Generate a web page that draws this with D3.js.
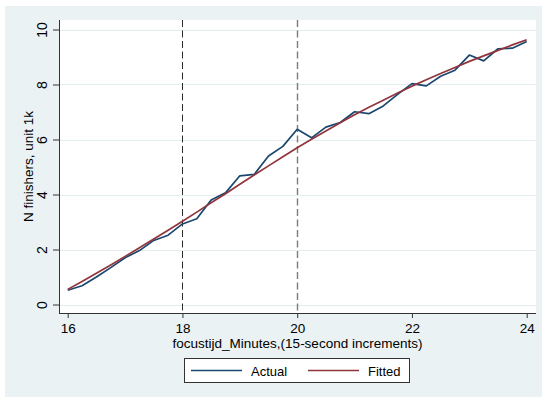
<!DOCTYPE html>
<html>
<head>
<meta charset="utf-8">
<script src="https://cdn.jsdelivr.net/npm/d3@7"></script>
<style>
  html, body { margin: 0; padding: 0; background: #ffffff; }
  svg { display: block; }
  text { font-family: "Liberation Sans", Arial, sans-serif; fill: #000; }
</style>
</head>
<body>
<svg id="chart" width="542" height="399"></svg>
<script>
// Finish time in minutes, 15-second steps
const minutes = [16, 16.25, 16.5, 16.75, 17, 17.25, 17.5, 17.75, 18, 18.25, 18.5, 18.75,
                 19, 19.25, 19.5, 19.75, 20, 20.25, 20.5, 20.75, 21, 21.25, 21.5, 21.75,
                 22, 22.25, 22.5, 22.75, 23, 23.25, 23.5, 23.75, 24];
// Cumulative finishers (thousands), observed
const actual = [0.52, 0.68, 1.00, 1.34, 1.70, 1.96, 2.33, 2.52, 2.93, 3.12, 3.80, 4.06,
                4.68, 4.73, 5.40, 5.75, 6.37, 6.06, 6.45, 6.62, 7.01, 6.94, 7.22, 7.64,
                8.03, 7.95, 8.30, 8.52, 9.07, 8.86, 9.30, 9.32, 9.56];
// Cumulative finishers (thousands), fitted curve
const fitted = [0.55, 0.84, 1.14, 1.44, 1.75, 2.06, 2.38, 2.70, 3.03, 3.36, 3.70, 4.03,
                4.37, 4.71, 5.04, 5.37, 5.70, 6.01, 6.31, 6.61, 6.90, 7.17, 7.43, 7.69,
                7.94, 8.17, 8.40, 8.62, 8.84, 9.04, 9.24, 9.44, 9.63];
const xTicks = [16, 18, 20, 22, 24];
const yTicks = [0, 2, 4, 6, 8, 10];
const markers = [18, 20];
const seriesNames = ["Actual", "Fitted"];
const seriesColors = ["#1a476f", "#90353b"];

const svg = d3.select("#chart");
const bg = "#eaf2f3";

// graph region
svg.append("rect").attr("x", 5).attr("y", 6).attr("width", 537).attr("height", 391).attr("fill", bg);

// plot region
const plot = { left: 59, right: 536, top: 20, bottom: 313 };
svg.append("rect")
  .attr("x", plot.left).attr("y", plot.top)
  .attr("width", plot.right - plot.left).attr("height", plot.bottom - plot.top)
  .attr("fill", "#ffffff");

const x = d3.scaleLinear().domain([16, 24]).range([67.7, 526.7]);
const y = d3.scaleLinear().domain([0, 10]).range([304.5, 29.5]);

// horizontal gridlines
svg.append("g").selectAll("line").data(yTicks).join("line")
  .attr("x1", plot.left).attr("x2", plot.right)
  .attr("y1", d => Math.round(y(d)) + 0.5).attr("y2", d => Math.round(y(d)) + 0.5)
  .attr("stroke", "#e4edef").attr("stroke-width", 1.2);

// reference lines
svg.append("g").selectAll("line").data(markers).join("line")
  .attr("x1", d => Math.round(x(d)) + 0.5).attr("x2", d => Math.round(x(d)) + 0.5)
  .attr("y1", plot.top).attr("y2", plot.bottom)
  .attr("stroke", (d, i) => i === 0 ? "#2a2a2a" : "#7c7c7c")
  .attr("stroke-width", (d, i) => i === 0 ? 1 : 1.4)
  .attr("stroke-dasharray", "7,3.5");

// series lines: observed first, fitted drawn over it
const line = d3.line().x((d, i) => x(minutes[i])).y(d => y(d));
[actual, fitted].forEach((vals, k) => {
  svg.append("path").datum(vals)
    .attr("d", line)
    .attr("fill", "none")
    .attr("stroke", seriesColors[k])
    .attr("stroke-width", 1.7)
    .attr("stroke-linejoin", "round");
});

// y axis
const yAxis = svg.append("g")
  .attr("transform", `translate(${plot.left},0)`)
  .call(d3.axisLeft(y).tickValues(yTicks).tickSize(6).tickSizeOuter(0));
yAxis.select(".domain").attr("d", `M0.5,${plot.top}V${plot.bottom}`).attr("stroke", "#333");
yAxis.selectAll(".tick line").attr("stroke", "#333").attr("x1", 0.5).attr("x2", -6);
yAxis.selectAll(".tick text")
  .attr("x", 0).attr("y", -12).attr("dy", 0)
  .attr("transform", "rotate(-90)")
  .attr("text-anchor", "middle")
  .style("font-size", "14px").style("font-family", "'Liberation Sans', Arial, sans-serif");

// x axis
const xAxis = svg.append("g")
  .attr("transform", `translate(0,${plot.bottom})`)
  .call(d3.axisBottom(x).tickValues(xTicks).tickSize(5).tickSizeOuter(0));
xAxis.select(".domain").attr("d", `M${plot.left},0.5H${plot.right}`).attr("stroke", "#333");
xAxis.selectAll(".tick line").attr("stroke", "#333");
xAxis.selectAll(".tick text")
  .attr("y", 20).attr("dy", 0)
  .style("font-size", "13.5px").style("font-family", "'Liberation Sans', Arial, sans-serif");

// axis titles
svg.append("text")
  .attr("x", (plot.left + plot.right) / 2).attr("y", 348)
  .attr("text-anchor", "middle").style("font-size", "13.5px")
  .text("focustijd_Minutes,(15-second increments)");
svg.append("text")
  .attr("transform", `translate(33,${(plot.top + plot.bottom) / 2}) rotate(-90)`)
  .attr("text-anchor", "middle").style("font-size", "13.5px")
  .text("N finishers, unit 1k");

// legend
const legend = svg.append("g");
legend.append("rect")
  .attr("x", 184.5).attr("y", 358.5).attr("width", 225).attr("height", 24)
  .attr("fill", "#fff").attr("stroke", "#333").attr("stroke-width", 1);
const legendX = [191, 308];
seriesNames.forEach((name, k) => {
  legend.append("line")
    .attr("x1", legendX[k]).attr("x2", legendX[k] + 51)
    .attr("y1", 370.5).attr("y2", 370.5)
    .attr("stroke", seriesColors[k]).attr("stroke-width", 1.5);
  legend.append("text")
    .attr("x", legendX[k] + 60).attr("y", 375.5)
    .style("font-size", "13px")
    .text(name);
});
</script>
</body>
</html>
